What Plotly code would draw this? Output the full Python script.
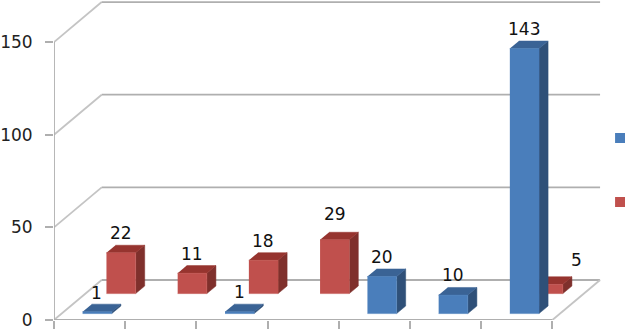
import plotly.graph_objects as go

categories = [0, 1, 2, 3, 4, 5, 6]
blue_values = [1, None, 1, None, 20, 10, 143]
red_values = [22, 11, 18, 29, None, None, 5]
y_ticks = [0, 50, 100, 150]

# canvas geometry
W, H = 625, 331
L, B = 50, 11
PX_C, PX_V = 71.7, 1.853
DEPTH_C, DEPTH_V = 48 / PX_C, 40 / PX_V    # full floor depth in data units
BAR_W = 0.41
BAR_Z = 0.19                                # bar thickness as share of depth
BLUE_Z, RED_Z = 0.16, 0.66                  # front plane of each series
GRID = "#afafaf"
GRID_DIAG = "#c4c4c4"

# label placement: px above the bar's back top edge, plus per-label nudges
LABEL_UP = 12
NUDGE = {("red", 3): (0, 6), ("red", 6): (28, 5), ("blue", 0): (-1, -1)}

fig = go.Figure()


def poly(xs, ys, color):
    fig.add_trace(go.Scatter(x=xs, y=ys, mode="lines", fill="toself", fillcolor=color,
                             line=dict(color=color, width=0.5), hoverinfo="skip",
                             showlegend=False, cliponaxis=False))


def line(xs, ys, color, width=1.8):
    fig.add_trace(go.Scatter(x=xs, y=ys, mode="lines", line=dict(color=color, width=width),
                             hoverinfo="skip", showlegend=False, cliponaxis=False))


# walls and floor
cats_end = categories[-1] + 1
for t in y_ticks:
    line([0, DEPTH_C], [t, t + DEPTH_V], GRID_DIAG)
    line([DEPTH_C, cats_end + DEPTH_C], [t + DEPTH_V] * 2, GRID)
line([0, 0], [y_ticks[0], y_ticks[-1]], GRID)
line([0, cats_end], [0, 0], GRID)
line([cats_end, cats_end + DEPTH_C], [0, DEPTH_V], GRID_DIAG)

annotations = []


def series(name, vals, z, front, top, side):
    zx, zy = z * DEPTH_C, z * DEPTH_V
    dx, dy = BAR_Z * DEPTH_C, BAR_Z * DEPTH_V
    for c, v in zip(categories, vals):
        if v is None:
            continue
        x0 = c + 0.5 - BAR_W / 2 + zx
        x1 = x0 + BAR_W
        y0, y1 = zy, zy + v
        poly([x1, x1 + dx, x1 + dx, x1], [y0, y0 + dy, y1 + dy, y1], side)
        poly([x0, x1, x1 + dx, x0 + dx], [y1, y1, y1 + dy, y1 + dy], top)
        poly([x0, x1, x1, x0], [y0, y0, y1, y1], front)
        nx, ny = NUDGE.get((name, c), (0, 0))
        annotations.append(dict(x=(x0 + x1) / 2, y=y1 + dy, text=str(v), showarrow=False,
                                xshift=nx, yshift=LABEL_UP + ny, xanchor="center", yanchor="middle",
                                font=dict(family="DejaVu Sans", size=17, color="#111111")))


series("red", red_values, RED_Z, "#c0504d", "#96342f", "#7f302c")
series("blue", blue_values, BLUE_Z, "#4a7ebb", "#3a6395", "#2f5078")

shapes = [
    dict(type="rect", xref="paper", yref="paper", x0=(615 - L) / (W - L), x1=(630 - L) / (W - L),
         y0=(H - B - 143) / (H - B), y1=(H - B - 133) / (H - B), fillcolor="#4a7ebb", line_width=0),
    dict(type="rect", xref="paper", yref="paper", x0=(615 - L) / (W - L), x1=(630 - L) / (W - L),
         y0=(H - B - 207) / (H - B), y1=(H - B - 197) / (H - B), fillcolor="#c0504d", line_width=0),
]

fig.update_layout(
    width=W, height=H, autosize=False, paper_bgcolor="white", plot_bgcolor="white",
    margin=dict(l=L, r=0, t=0, b=B), showlegend=False, annotations=annotations, shapes=shapes,
    xaxis=dict(range=[0, (W - L) / PX_C], tickmode="array", tickvals=categories + [cats_end],
               ticktext=[""] * (len(categories) + 1), ticks="outside", ticklen=8, tickwidth=1.5,
               tickcolor=GRID, showgrid=False, zeroline=False, showline=False),
    yaxis=dict(range=[0, (H - B) / PX_V], tickmode="array", tickvals=y_ticks,
               ticks="outside", ticklen=8, tickwidth=1.5, tickcolor=GRID, ticklabelstandoff=9,
               tickfont=dict(family="DejaVu Sans", size=17, color="#222222"),
               showgrid=False, zeroline=False, showline=False),
)

fig.write_html("out.html", config={"displayModeBar": False},
               post_script="document.body.style.margin='0';window.dispatchEvent(new Event('resize'));")
